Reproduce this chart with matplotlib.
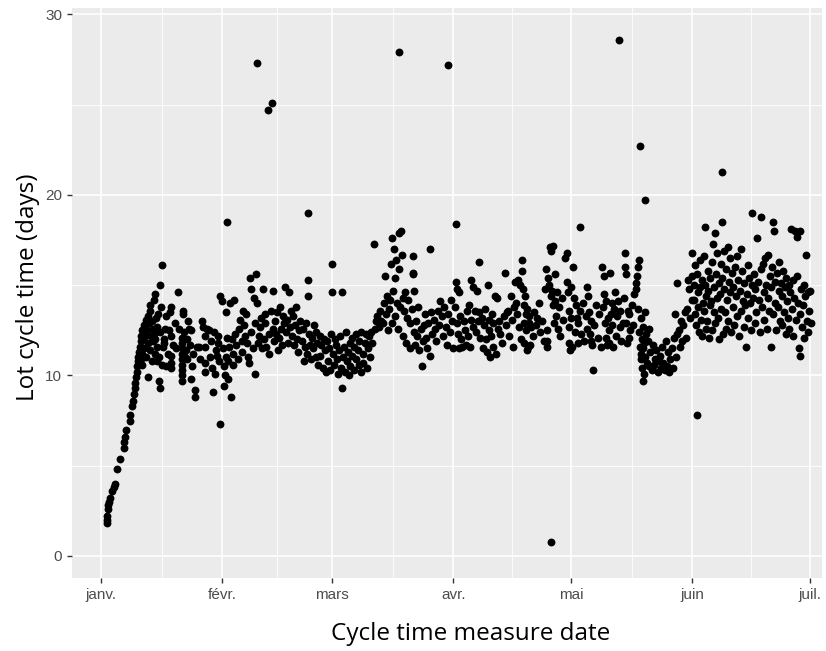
import matplotlib
matplotlib.use("Agg")
import matplotlib.pyplot as plt

# day of year (0 = 1 Jan) and lot cycle time (days)
jan = [(1.5,1.8),(1.5,2.0),(1.6,2.2),(1.7,2.6),(1.8,2.8),(2.1,3.0),(2.4,3.2),(2.8,3.6),(3.2,3.8),(3.6,4.0),
       (4.0,4.8),(4.9,5.4),(5.8,6.0),(6.0,6.3),(6.2,6.6),(6.5,7.0),(7.3,7.5),(7.5,7.8),(7.9,8.3),(8.1,8.6),
       (8.4,9.0),(8.6,9.3),(8.8,9.6),(8.9,9.9),(9.1,10.2),(9.2,10.5),(9.4,10.8),(9.5,11.0),(9.7,11.3),(9.9,11.6),
       (10.1,11.9),(10.3,12.2),(10.5,12.5),
       (10.2,10.9),(10.4,11.2),(10.6,10.6),(10.8,12.0),(11.0,11.5),(11.1,12.8),(11.3,12.2),(11.4,13.1),(11.6,11.0),
       (11.7,12.5),(11.9,13.3),(12.0,9.9),(12.1,11.8),(12.3,12.9),(12.4,13.9),(12.5,13.6),(12.6,11.4),(12.8,12.2),
       (12.9,10.8),(13.0,13.0),(13.2,12.6),(13.4,11.9),(13.5,12.3),(13.6,14.2),(13.7,11.2),(13.8,14.5),(13.9,12.0),
       (14.0,13.2),(14.2,10.8),(14.3,11.6),(14.4,12.7),(14.6,13.4),(14.7,9.7),(14.8,11.0),(15.0,15.0),(15.0,9.3),
       (15.1,12.4),(15.3,13.8),(15.5,10.6),(15.7,16.1),(15.8,11.6),(16.0,12.0),(16.2,11.8),(16.4,12.6),
       (16.5,13.3),(16.7,10.5),(17.0,11.2),(17.3,12.5),(17.6,13.5),(17.8,13.8),(18.0,12.2),(18.0,11.1),(18.0,10.7),
       (18.0,10.4),(18.4,11.7),(18.8,12.9),(19.2,11.5),(19.7,14.6),(20.0,12.6),(20.7,12.1),(20.7,11.8),(20.7,11.5),
       (20.7,11.2),(20.7,10.9),(20.7,10.6),(20.7,10.3),(20.7,10.0),(20.7,9.7),(20.9,13.4),(21.0,13.6),(21.2,12.4),
       (21.5,11.0),(21.8,11.4),(22.0,12.0),(22.0,10.9),(22.3,13.0),(22.5,12.6),(22.7,11.7),(23.0,12.5),(23.0,9.8),
       (23.3,10.5),(23.5,11.2),(24.0,9.2),(24.0,8.8),(24.5,11.6),(25.0,11.6),(25.3,10.9),(25.8,13.0),(26.0,12.7),
       (26.5,12.2),(26.5,11.6),(26.5,10.7),(26.5,10.2),(27.0,12.6),(27.5,12.5),(27.8,11.0),(28.0,11.9),(28.3,10.4),
       (28.6,9.1),(28.8,12.4),(29.0,10.1),(29.3,11.4),(29.5,11.1),(29.8,12.2),(30.0,11.8),(30.2,10.8),(30.4,14.4),
       (30.4,7.3)]

feb = [(31.0,14.1),(31.2,11.5),(31.3,10.5),(31.5,9.4),(31.6,10.0),(31.8,11.0),(32.0,13.5),(32.1,18.5),(32.2,12.1),
       (32.4,9.8),(32.5,10.8),(32.8,11.6),(33.0,14.0),(33.2,8.8),(33.4,12.0),(33.6,10.6),(33.8,11.2),(34.0,14.2),
       (34.3,12.3),(34.6,11.7),(35.0,10.9),(35.3,12.6),(35.6,13.1),(36.0,11.9),(36.0,11.3),(36.3,13.6),(36.6,12.8),
       (36.9,12.2),(37.0,13.4),(37.3,11.8),(37.5,11.0),(37.8,10.7),(38.0,15.4),(38.2,14.8),(38.4,12.4),(38.7,11.5),
       (39.0,14.3),(39.2,12.9),(39.4,10.1),(39.6,15.6),(39.8,27.3),(39.9,14.0),(40.0,11.8),(40.3,12.2),(40.6,12.7),
       (40.8,13.2),(41.0,11.5),(41.3,14.8),(41.5,12.0),(41.8,12.9),(42.0,13.4),(42.2,11.6),(42.6,24.7),(42.8,12.3),
       (43.0,11.2),(43.3,13.6),(43.7,25.1),(43.8,12.6),(44.0,14.7),(44.2,11.9),(44.5,13.0),(44.8,12.3),(45.0,13.5),
       (45.2,11.4),(45.5,12.1),(45.8,13.8),(46.0,12.6),(46.2,11.7),(46.5,13.3),(46.8,12.9),(47.0,14.9),(47.3,12.4),
       (47.6,13.1),(47.8,11.8),(48.0,14.6),(48.2,12.7),(48.5,13.6),(48.8,12.2),(49.0,13.3),(49.3,11.7),(49.6,12.8),
       (49.8,13.8),(50.0,12.0),(50.3,11.3),(50.6,12.5),(50.9,13.0),(51.2,11.9),(51.5,12.6),(51.8,10.8),(52.0,11.6),
       (52.3,12.9),(52.6,11.2),(52.8,19.0),(52.8,15.3),(52.8,14.4),(53.0,12.3),(53.3,11.7),(53.6,10.9),(53.9,12.1),
       (54.2,11.5),(54.5,12.8),(54.8,11.0),(55.0,12.4),(55.2,11.8),(55.5,10.6),(55.8,12.2),(56.0,11.1),(56.3,11.7),
       (56.6,10.4),(56.9,12.0),(57.2,11.4),(57.5,10.2),(57.8,11.9),(58.0,10.8),(58.3,11.5),(58.6,10.3),(58.8,12.3),
       (59.0,16.2),(59.0,14.6)]

mar = [(59.3,11.2),(59.5,10.6),(59.8,12.0),(60.0,11.7),(60.2,10.9),(60.5,10.1),(60.7,11.4),(61.0,12.2),(61.2,10.4),
       (61.5,14.6),(61.5,9.3),(61.7,11.0),(62.0,11.6),(62.2,10.2),(62.5,12.4),(62.7,10.8),(63.0,11.3),(63.2,10.0),
       (63.5,11.8),(63.7,10.5),(64.0,12.1),(64.2,11.1),(64.5,10.3),(64.7,11.6),(65.0,10.9),(65.2,12.3),(65.5,11.4),
       (65.8,10.6),(66.0,11.9),(66.3,10.2),(66.5,12.4),(66.8,11.2),(67.0,10.7),(67.3,11.8),(67.6,12.3),(67.9,10.4),
       (68.2,11.5),(68.5,12.2),(68.8,11.0),(69.0,12.4),(69.3,11.8),(69.7,17.3),(70.0,12.6),(70.3,13.0),(70.6,13.3),
       (71.0,12.7),(71.3,13.6),(71.6,13.0),(72.0,12.9),(72.3,14.0),(72.5,15.5),(72.8,13.4),(73.0,14.4),(73.2,12.5),
       (73.5,13.7),(73.8,14.2),(74.0,16.2),(74.2,12.9),(74.4,17.6),(74.6,14.7),(74.8,17.0),(75.0,13.3),(75.2,15.4),
       (75.4,16.4),(75.6,14.0),(75.8,12.6),(76.0,27.9),(76.0,17.9),(76.2,15.9),(76.4,13.8),(76.6,18.0),(76.8,16.7),
       (77.0,14.3),(77.2,12.2),(77.4,13.6),(77.7,14.6),(78.0,11.8),(78.2,13.2),(78.5,14.2),(78.8,12.9),(79.0,11.5),
       (79.3,13.7),(79.7,16.6),(79.7,15.7),(79.7,15.6),(79.8,14.7),(80.0,12.4),(80.2,11.7),(80.5,13.0),(80.8,12.2),
       (81.0,13.8),(81.3,11.4),(81.6,12.6),(81.9,10.5),(82.1,11.9),(82.4,12.8),(82.8,13.4),(83.0,12.1),(83.3,11.5),
       (83.6,12.9),(84.0,17.0),(84.0,11.1),(84.3,13.5),(84.6,12.3),(85.0,13.1),(85.3,12.6),(85.6,11.9),(86.0,13.6),
       (86.3,12.8),(86.6,14.1),(87.0,13.3),(87.3,12.2),(87.6,13.8),(88.0,12.7),(88.3,11.7),(88.6,27.2),(88.7,13.4),
       (89.0,12.4),(89.3,14.2),(89.6,13.0),(89.9,11.5)]

apr = [(90.5,13.8),(90.6,18.4),(90.7,15.2),(90.8,12.9),(91.0,14.8),(91.2,12.3),(91.4,11.5),(91.5,14.6),(91.7,13.3),
       (92.0,12.0),(92.3,11.6),(92.6,13.0),(92.9,12.5),(93.2,11.7),(93.5,13.6),(93.8,12.2),(94.0,13.9),(94.2,11.6),
       (94.5,15.3),(94.6,13.1),(94.9,14.9),(95.1,12.7),(95.4,13.6),(95.7,12.4),(96.0,14.7),(96.2,13.0),(96.4,16.3),
       (96.6,13.5),(96.9,12.1),(97.2,13.2),(97.5,11.5),(97.8,12.8),(98.0,13.7),(98.3,12.0),(98.6,11.3),(98.9,15.0),
       (99.0,13.1),(99.2,12.5),(99.4,11.0),(99.6,12.2),(99.8,13.4),(100.0,11.6),(100.2,12.9),(100.5,14.4),(100.8,11.2),
       (101.0,14.3),(101.3,12.6),(101.6,13.0),(102.0,12.3),(102.4,11.8),(102.8,13.3),(103.1,15.7),(103.3,12.8),
       (103.6,13.5),(104.0,13.6),(104.3,12.2),(104.6,14.4),(104.9,13.1),(105.2,11.6),(105.4,13.8),(105.7,15.2),
       (106.0,14.0),(106.2,13.4),(106.5,15.3),(106.8,12.7),(107.0,15.0),(107.3,12.0),(107.5,16.4),(107.6,15.8),
       (107.8,14.8),(107.9,13.9),(108.0,12.9),(108.1,11.8),(108.2,14.4),(108.4,13.4),(108.6,12.5),(108.7,11.4),
       (108.9,13.7),(109.0,11.6),(109.2,13.3),(109.4,12.9),(109.6,11.7),(109.8,12.7),(110.2,12.2),(110.6,13.5),
       (111.0,12.8),(111.4,13.2),(111.8,14.0),(112.2,12.4),(112.6,13.0),(113.0,11.9),(113.4,14.8),(113.7,15.9),
       (113.8,11.9),(113.9,11.6),(114.0,12.5),(114.1,15.4),(114.4,15.0),(114.6,17.1),(114.8,14.4),(114.9,0.8),
       (115.0,16.9),(115.1,14.7),(115.3,17.2),(115.5,13.9),(115.7,12.9),(115.9,14.1),(116.0,15.6),(116.2,13.3),
       (116.5,14.6),(116.8,12.6),(117.0,13.8),(117.3,12.2),(117.6,14.3),(118.0,13.1),(118.5,16.5),(118.9,16.8),
       (119.0,15.2),(119.2,14.6),(119.4,13.6),(119.5,11.8),(119.6,12.7),(119.8,11.4),(120.0,14.9),(120.1,13.2),
       (120.2,11.6)]

may = [(120.5,16.0),(120.8,14.3),(121.0,12.4),(121.2,13.9),(121.5,13.2),(121.7,12.9),(121.9,11.8),(122.2,13.6),
       (122.3,18.2),(122.6,12.3),(123.0,14.0),(123.4,11.9),(123.8,13.3),(124.0,14.9),(124.2,12.6),(124.4,14.4),
       (124.6,13.5),(124.8,12.3),(125.0,11.9),(125.2,13.0),(125.5,11.7),(125.7,10.3),(126.0,12.8),(126.4,13.9),
       (126.8,12.1),(127.2,13.4),(127.6,11.6),(128.0,16.0),(128.2,13.8),(128.4,15.5),(128.5,14.5),(128.7,12.9),
       (128.9,12.1),(129.0,14.1),(129.2,11.7),(129.4,13.2),(129.6,12.5),(129.8,11.8),(130.0,15.7),(130.2,13.4),
       (130.4,14.0),(130.6,12.8),(130.8,11.6),(131.0,13.7),(131.3,14.6),(131.5,12.2),(131.8,13.3),(132.0,14.1),
       (132.2,28.6),(132.4,12.7),(132.6,13.6),(132.9,11.9),(133.2,12.9),(133.5,14.3),(133.8,16.8),(133.9,16.0),
       (134.0,15.6),(134.1,12.9),(134.3,11.8),(134.5,13.6),(134.7,12.1),(134.9,13.4),(135.2,12.5),(135.5,13.9),
       (135.8,12.8),(136.2,14.5),(136.5,15.1),(136.7,14.8),(136.9,15.5),(137.1,13.7),(137.2,16.0),(137.4,12.4),
       (137.5,16.4),(137.6,22.7),(137.7,11.6),(137.8,13.2),(137.9,11.2),(138.0,10.9),(138.1,12.0),(138.2,10.4),
       (138.3,9.7),(138.4,11.5),(138.5,12.7),(138.6,10.1),(138.7,11.8),(138.8,13.5),(138.9,19.7),(139.0,11.0),
       (139.2,12.3),(139.4,10.7),(139.6,11.9),(139.8,10.5),(140.0,12.6),(140.3,11.3),(140.6,10.3),(140.9,11.7),
       (141.2,10.6),(141.5,10.9),(141.8,11.4),(142.1,10.2),(142.4,10.8),(142.7,11.1),(143.0,10.4),(143.3,11.6),
       (143.6,10.7),(143.9,10.3),(144.2,11.9),(144.5,10.5),(144.8,11.3),(145.1,10.2),(145.4,10.9),(145.7,11.5),
       (146.0,10.4),(146.3,12.1),(146.5,13.4),(146.7,11.0),(147.0,12.3),(147.2,15.1),(147.5,12.5),(147.8,11.6),
       (148.0,13.0),(148.3,11.9),(148.6,12.8),(149.0,13.5),(149.3,12.1),(149.6,13.7),(149.9,15.3),(150.2,14.8),
       (150.5,13.2),(150.8,15.5),(151.0,16.8),(151.0,14.2)]

jun = [(151.3,15.0),(151.5,14.2),(151.6,13.4),(151.8,16.1),(152.0,12.8),(152.2,7.8),(152.2,15.6),(152.4,14.6),
       (152.5,13.8),(152.7,12.4),(152.9,16.4),(153.0,14.9),(153.2,13.1),(153.4,15.3),(153.5,12.2),(153.7,14.0),
       (153.9,16.6),(154.0,13.6),(154.2,18.2),(154.3,15.0),(154.5,12.6),(154.6,14.4),(154.8,13.0),(155.0,15.8),
       (155.1,14.7),(155.3,12.1),(155.5,13.9),(155.6,15.4),(155.8,14.1),(156.0,16.3),(156.1,12.5),(156.3,17.3),
       (156.4,13.5),(156.6,14.9),(156.7,17.9),(156.9,12.9),(157.0,15.6),(157.2,14.3),(157.3,16.8),(157.5,13.2),
       (157.7,12.0),(157.8,15.1),(158.0,14.5),(158.2,16.2),(158.3,13.7),(158.5,21.3),(158.5,18.5),(158.6,15.4),
       (158.8,12.3),(159.0,14.8),(159.1,16.9),(159.3,13.5),(159.5,15.9),(159.6,12.6),(159.8,14.2),(160.0,17.1),
       (160.1,13.0),(160.3,15.2),(160.5,16.5),(160.7,14.6),(160.9,12.4),(161.1,15.7),(161.3,13.8),(161.5,14.9),
       (161.7,12.8),(161.9,16.0),(162.1,14.4),(162.3,16.6),(162.5,13.3),(162.7,15.3),(162.9,12.2),(163.1,14.7),
       (163.3,17.0),(163.5,13.6),(163.7,15.8),(163.9,14.1),(164.1,12.7),(164.3,15.1),(164.5,13.9),(164.7,11.6),
       (164.9,14.5),(165.1,16.1),(165.3,13.2),(165.5,15.4),(165.7,14.0),(165.9,12.5),(166.1,15.0),(166.3,19.0),
       (166.5,14.3),(166.7,15.6),(166.9,12.9),(167.1,14.8),(167.3,13.5),(167.6,17.6),(167.8,15.2),(168.0,14.2),
       (168.2,12.4),(168.5,18.8),(168.6,15.9),(168.8,13.8),(169.0,16.2),(169.2,14.6),(169.4,13.1),(169.6,16.5),
       (169.8,15.0),(170.0,12.6),(170.2,14.3),(170.4,16.7),(170.6,13.6),(170.8,15.5),(171.0,11.6),(171.2,14.9),
       (171.4,16.0),(171.6,13.4),(171.7,18.5),(171.8,18.0),(172.0,15.2),(172.2,14.0),(172.4,12.5),(172.6,15.7),
       (172.8,13.8),(173.0,14.7),(173.2,16.3),(173.4,13.0),(173.6,15.1),(173.8,14.4),(174.0,12.8),(174.2,15.8),
       (174.4,13.5),(174.6,14.9),(174.8,12.3),(175.0,15.4),(175.2,14.1),(175.4,13.2),(175.6,15.0),(175.8,12.6),
       (176.0,14.6),(176.2,18.1),(176.4,13.7),(176.6,15.3),(176.8,12.2),(177.0,14.3),(177.2,18.0),(177.4,13.1),
       (177.6,15.5),(177.8,17.7),(178.0,14.0),(178.2,11.5),(178.4,13.4),(178.5,18.0),(178.6,11.1),(178.8,14.8),
       (179.0,12.7),(179.2,13.9),(179.4,15.0),(179.6,12.1),(179.8,14.4),(180.0,16.7),(180.2,13.0),(180.4,14.6),
       (180.6,12.4),(180.8,13.6),(181.0,14.7),(181.2,12.9)]

month_days = [0, 31, 59, 90, 120, 151, 181]
month_labels = ["janv.", "févr.", "mars", "avr.", "mai", "juin", "juil."]

points = jan + feb + mar + apr + may + jun
x = [p[0] for p in points]
y = [p[1] for p in points]

fig = plt.figure(figsize=(8.26, 6.51), dpi=100)
ax = fig.add_axes([72/826, 73/651, 750/826, 570/651])
ax.set_facecolor("#EBEBEB")
for s in ax.spines.values():
    s.set_visible(False)

ax.scatter(x, y, s=32, color="black", linewidths=0, zorder=3)

ax.set_xlim(-7.4, 184.1)
ax.set_ylim(-1.22, 30.36)
ax.set_xticks(month_days)
ax.set_xticklabels(month_labels)
ax.set_xticks([(a + b) / 2 for a, b in zip(month_days[:-1], month_days[1:])], minor=True)
ax.set_yticks([0, 10, 20, 30])
ax.set_yticks([5, 15, 25], minor=True)
ax.grid(which="major", color="white", linewidth=1.2, zorder=0)
ax.grid(which="minor", color="white", linewidth=0.6, zorder=0)
ax.set_axisbelow(True)
ax.tick_params(which="major", length=3.5, color="#333333", labelcolor="#4D4D4D", labelsize=11, width=1)
ax.tick_params(which="minor", length=0)
for lab in ax.get_xticklabels() + ax.get_yticklabels():
    lab.set_family(["Liberation Sans Narrow", "Liberation Sans"])

fig.text(471/826, 1 - 634/651, "Cycle time measure date", ha="center", va="center",
         fontsize=17.5, family="Open Sans")
fig.text(28/826, 1 - 287/651, "Lot cycle time (days)", ha="center", va="center",
         rotation=90, fontsize=17.5, family="Open Sans")

fig.savefig("out.png", dpi=100)
